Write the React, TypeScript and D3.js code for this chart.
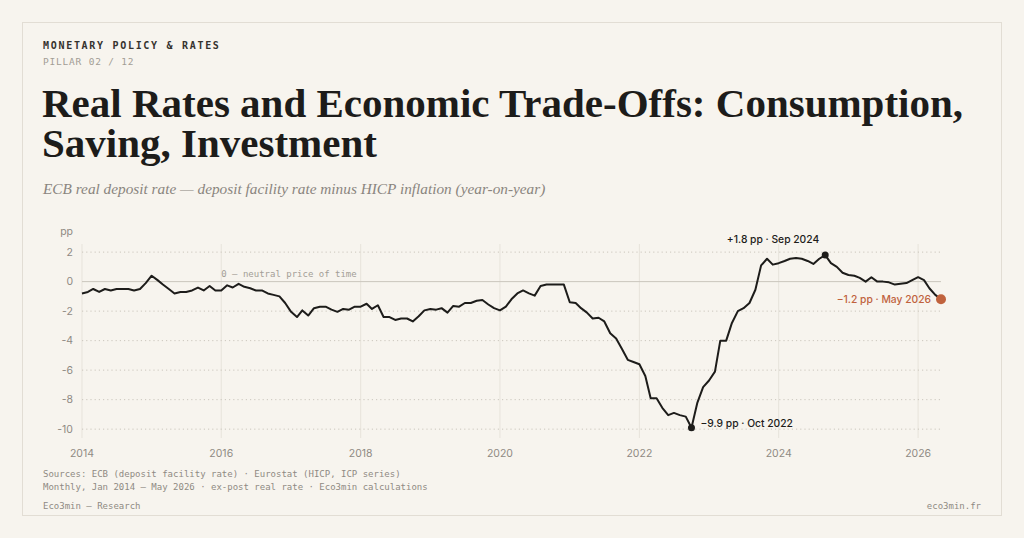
import { useMemo } from 'react'
import * as d3 from 'd3'

// ECB real deposit rate, pp, monthly (deposit facility rate minus HICP y/y)
const y2014 = [-0.8, -0.7, -0.5, -0.7, -0.5, -0.6, -0.5, -0.5, -0.5, -0.6, -0.5, -0.1]
const y2015 = [0.4, 0.1, -0.2, -0.5, -0.8, -0.7, -0.7, -0.6, -0.4, -0.6, -0.3, -0.6]
const y2016 = [-0.6, -0.25, -0.4, -0.15, -0.35, -0.45, -0.6, -0.6, -0.8, -0.9, -1.0, -1.45]
const y2017 = [-2.05, -2.4, -1.95, -2.3, -1.8, -1.7, -1.7, -1.9, -2.05, -1.85, -1.9, -1.7]
const y2018 = [-1.7, -1.5, -1.85, -1.6, -2.4, -2.4, -2.6, -2.5, -2.5, -2.7, -2.35, -1.95]
const y2019 = [-1.85, -1.9, -1.8, -2.1, -1.65, -1.7, -1.45, -1.45, -1.3, -1.25, -1.55, -1.8]
const y2020 = [-1.95, -1.7, -1.2, -0.8, -0.6, -0.8, -0.95, -0.3, -0.2, -0.2, -0.2, -0.2]
const y2021 = [-1.4, -1.45, -1.8, -2.1, -2.5, -2.45, -2.7, -3.5, -3.85, -4.55, -5.3, -5.45]
const y2022 = [-5.6, -6.4, -7.9, -7.9, -8.55, -9.05, -8.9, -9.05, -9.15, -9.9, -8.2, -7.15]
const y2023 = [-6.7, -6.1, -4.0, -4.0, -2.8, -2.0, -1.8, -1.45, -0.55, 1.1, 1.55, 1.15]
const y2024 = [1.25, 1.4, 1.55, 1.6, 1.55, 1.4, 1.2, 1.55, 1.8, 1.25, 1.0, 0.6]
const y2025 = [0.45, 0.4, 0.25, 0.0, 0.3, 0.0, 0.0, -0.05, -0.2, -0.15, -0.1, 0.1]
const y2026 = [0.3, 0.1, -0.45, -0.9, -1.2]

const xTickYears = [2014, 2016, 2018, 2020, 2022, 2024, 2026]
const yTicks = [2, 0, -2, -4, -6, -8, -10]

const W = 1024
const H = 538
const BG = '#f7f4ee'
const INK = '#1d1c1a'
const MUTED = '#8f8a83'
const ACCENT = '#c0623d'
const MONO = '"DejaVu Sans Mono", "Liberation Mono", monospace'
const SANS = 'Inter, "Noto Sans", sans-serif'
const SERIF = '"Liberation Serif", "DejaVu Serif", serif'

const PLOT = { left: 82, right: 941, top: 244, bottom: 438 }

type Point = { date: Date; value: number }

const fmtMonth = d3.timeFormat('%b %Y')
const fmtPp = (v: number) => `${v > 0 ? '+' : '\u2212'}${Math.abs(v).toFixed(1)} pp`

export default function App() {
  const { data, x, y, path } = useMemo(() => {
    const values = [y2014, y2015, y2016, y2017, y2018, y2019, y2020, y2021, y2022, y2023, y2024, y2025, y2026].flat()
    const data: Point[] = values.map((value, i) => ({ date: new Date(2014, i, 1), value }))
    const x = d3
      .scaleTime()
      .domain(d3.extent(data, (d) => d.date) as [Date, Date])
      .range([PLOT.left, PLOT.right])
    const y = d3.scaleLinear().domain([-10.6, 2.55]).range([PLOT.bottom, PLOT.top])
    const path = d3
      .line<Point>()
      .x((d) => x(d.date))
      .y((d) => y(d.value))(data) as string
    return { data, x, y, path }
  }, [])

  const maxPt = data.reduce((a, b) => (b.value > a.value ? b : a))
  const minPt = data.reduce((a, b) => (b.value < a.value ? b : a))
  const lastPt = data[data.length - 1]

  return (
    <svg
      width={W}
      height={H}
      viewBox={`0 0 ${W} ${H}`}
      style={{ position: 'absolute', left: 0, top: 0, display: 'block' }}
    >
      <rect width={W} height={H} fill={BG} />
      <rect x={22.5} y={22.5} width={979} height={493} fill={BG} stroke="#e2ddd4" />

      {/* header */}
      <text x={43} y={49} fontFamily={MONO} fontSize={10} fontWeight={700} letterSpacing={1.7} fill="#35322e">
        MONETARY POLICY &amp; RATES
      </text>
      <text x={43} y={65} fontFamily={MONO} fontSize={9.5} letterSpacing={0.8} fill="#a29d95">
        PILLAR 02 / 12
      </text>
      <text fontFamily={SERIF} fontSize={41} fontWeight={700} fill={INK}>
        <tspan x={42} y={117}>Real Rates and Economic Trade-Offs: Consumption,</tspan>
        <tspan x={42} y={157}>Saving, Investment</tspan>
      </text>
      <text x={43} y={194} fontFamily={SERIF} fontSize={15.3} fontStyle="italic" fill="#8a857e">
        ECB real deposit rate — deposit facility rate minus HICP inflation (year-on-year)
      </text>

      {/* grid */}
      {xTickYears.map((yr) => {
        const px = x(new Date(yr, 0, 1))
        return (
          <g key={yr}>
            <line x1={px} x2={px} y1={PLOT.top} y2={PLOT.bottom} stroke="#e7e3db" />
            <text x={px} y={457} textAnchor="middle" fontFamily={SANS} fontSize={10.5} fill={MUTED}>
              {yr}
            </text>
          </g>
        )
      })}
      {yTicks.map((t) => (
        <g key={t}>
          {t !== 0 && (
            <line
              x1={PLOT.left}
              x2={PLOT.right}
              y1={y(t)}
              y2={y(t)}
              stroke="#cbc6bd"
              strokeDasharray="1.2 3"
            />
          )}
          <text x={73} y={y(t)} dy="0.35em" textAnchor="end" fontFamily={SANS} fontSize={10.5} fill={MUTED}>
            {t < 0 ? `-${Math.abs(t)}` : t}
          </text>
        </g>
      ))}
      <line x1={PLOT.left} x2={PLOT.right} y1={y(0)} y2={y(0)} stroke="#cbc6bd" />
      <text x={73} y={235} textAnchor="end" fontFamily={SANS} fontSize={10.5} fill={MUTED}>
        pp
      </text>
      <text x={x(new Date(2016, 0, 1))} y={y(0) - 5} fontFamily={MONO} fontSize={9} fill="#a39e96">
        0 — neutral price of time
      </text>

      {/* series */}
      <path d={path} fill="none" stroke={INK} strokeWidth={2} strokeLinejoin="round" />

      {/* annotations */}
      <circle cx={x(maxPt.date)} cy={y(maxPt.value)} r={3.5} fill={INK} />
      <text
        x={x(maxPt.date) - 6}
        y={y(maxPt.value) - 12}
        textAnchor="end"
        fontFamily={SANS}
        fontSize={10.3}
        fontWeight={500}
        fill={INK}
      >
        {`${fmtPp(maxPt.value)} · ${fmtMonth(maxPt.date)}`}
      </text>
      <circle cx={x(minPt.date)} cy={y(minPt.value)} r={3.5} fill={INK} />
      <text
        x={x(minPt.date) + 9}
        y={y(minPt.value) - 2}
        dy="0.1em"
        fontFamily={SANS}
        fontSize={10.3}
        fontWeight={500}
        fill={INK}
      >
        {`${fmtPp(minPt.value)} · ${fmtMonth(minPt.date)}`}
      </text>
      <circle cx={x(lastPt.date)} cy={y(lastPt.value)} r={5} fill={ACCENT} />
      <text
        x={x(lastPt.date) - 10}
        y={y(lastPt.value)}
        dy="0.35em"
        textAnchor="end"
        fontFamily={SANS}
        fontSize={10.3}
        fontWeight={500}
        fill={ACCENT}
      >
        {`${fmtPp(lastPt.value)} · ${fmtMonth(lastPt.date)}`}
      </text>

      {/* footer */}
      <text x={43} y={477} fontFamily={MONO} fontSize={9} fill={MUTED}>
        Sources: ECB (deposit facility rate) · Eurostat (HICP, ICP series)
      </text>
      <text x={43} y={490} fontFamily={MONO} fontSize={9} fill={MUTED}>
        Monthly, Jan 2014 – May 2026 · ex-post real rate · Eco3min calculations
      </text>
      <text x={43} y={509} fontFamily={MONO} fontSize={9} fill={MUTED}>
        Eco3min — Research
      </text>
      <text x={981} y={509} textAnchor="end" fontFamily={MONO} fontSize={9} fill={MUTED}>
        eco3min.fr
      </text>
    </svg>
  )
}
